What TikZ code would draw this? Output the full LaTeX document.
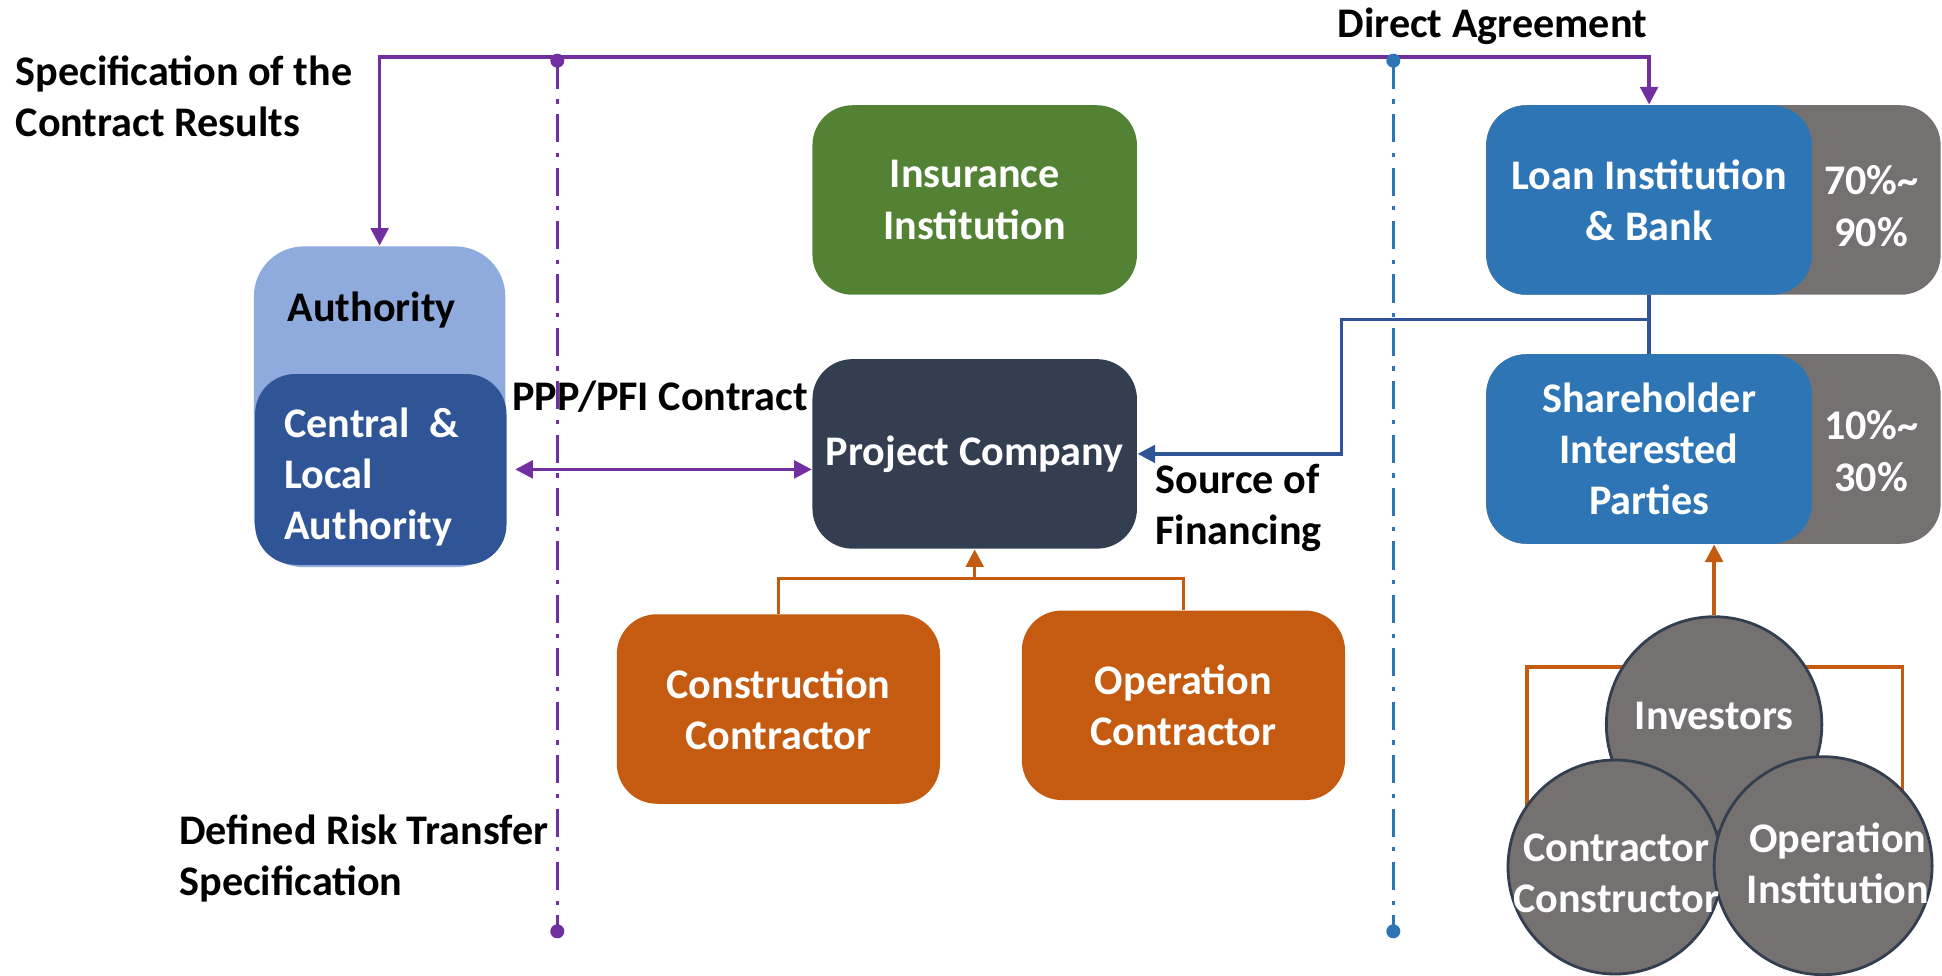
\documentclass[tikz,border=0pt]{standalone}
\usepackage{fontspec}
\setmainfont{Carlito}
\usetikzlibrary{arrows.meta}
\definecolor{pourpre}{HTML}{7030A0}
\definecolor{bleuclair}{HTML}{8FAADC}
\definecolor{bleufonce}{HTML}{2F5597}
\definecolor{bleu}{HTML}{2E75B6}
\definecolor{vert}{HTML}{548235}
\definecolor{ardoise}{HTML}{333F50}
\definecolor{gris}{HTML}{767171}
\definecolor{orange}{HTML}{C55A11}
\begin{document}
\begin{tikzpicture}[font=\bfseries\fontsize{12}{14.6}\selectfont]
	\tikzset{boite/.style={rounded corners=0.4cm, minimum width=3.245cm, minimum height=1.895cm, text=white, align=center, inner sep=0pt},
		fond/.style={boite, fill=gris, minimum width=4.545cm},
		cercle/.style={circle, draw=ardoise, line width=0.8pt, fill=gris, inner sep=0pt},
		fleche/.style={>={Triangle[length=5pt, width=5pt]}, line width=1pt},
		pointille/.style={line width=0.9pt, dash pattern=on 8pt off 3pt on 1.2pt off 3pt}};

	\useasboundingbox (0,0) rectangle (19.42,-9.76);

	\node[boite, fill=bleuclair, minimum width=2.514cm, minimum height=3.208cm, rounded corners=0.5cm] (auth) at (3.796,-4.068) {};
	\node[boite, fill=bleufonce, minimum width=2.514cm, minimum height=1.907cm] (cent) at (3.808,-4.694) {};
	\node[text=white, anchor=west, align=left] (centt) at (2.72,-4.77) {Central\ \ \&\\Local\\Authority};
	\node (authlbl) at (3.716,-3.100) {Authority};

	\node[boite, fill=vert] (ins) at (9.747,-2.000) {Insurance\\Institution};
	\node[boite, fill=ardoise] (proj) at (9.747,-4.539) {Project Company};
	\node[boite, fill=orange, minimum width=3.232cm] (cons) at (7.784,-7.090) {Construction\\Contractor};
	\node[boite, fill=orange, minimum width=3.232cm] (oper) at (11.834,-7.053) {Operation\\Contractor};

	\node[fond] (loang) at (17.134,-2.000) {};
	\node[boite, fill=bleu, minimum width=3.257cm] (loan) at (16.491,-2.000) {Loan Institution\\\& Bank};
	\node[text=white, align=center] (loanpct) at (18.713,-2.060) {70\%\textasciitilde\\90\%};
	\node[fond] (shareg) at (17.134,-4.490) {};
	\node[boite, fill=bleu, minimum width=3.257cm] (share) at (16.491,-4.490) {Shareholder\\Interested\\Parties};
	\node[text=white, align=center] (sharepct) at (18.713,-4.510) {10\%\textasciitilde\\30\%};

	\node (direct) at (14.924,-0.260) {Direct Agreement};
	\node[anchor=west, align=left] (spec) at (0.033,-0.966) {Specification of the\\Contract Results};
	\node (ppp) at (6.601,-3.963) {PPP/PFI Contract};
	\node[anchor=west, align=left] (source) at (11.430,-5.080) {Source of\\Financing};
	\node[anchor=west, align=left] (risk) at (1.670,-8.583) {Defined Risk Transfer\\Specification};

	% lignes de separation
	\coordinate (pv1) at (5.573,-0.607);
	\coordinate (pv2) at (5.573,-9.313);
	\coordinate (bv1) at (13.933,-0.607);
	\coordinate (bv2) at (13.933,-9.313);
	\draw[pointille, pourpre] (pv1) -- (pv2);
	\draw[pointille, bleu] (bv1) -- (bv2);

	\coordinate (topleft) at (3.796,-0.570);
	\draw[fleche, pourpre, <->] (auth.north) -- (topleft) -| (loan.north);
	\fill[pourpre] (pv1) circle (0.07);
	\fill[pourpre] (pv2) circle (0.07);
	\fill[bleu] (bv1) circle (0.07);
	\fill[bleu] (bv2) circle (0.07);

	\draw[fleche, pourpre, <->] (cent.east) ++(0.08,0) -- (cent.east -| proj.west);

	% financement
	\coordinate (fin) at (16.491,-3.195);
	\coordinate (finturn) at (13.413,-3.195);
	\draw[line width=1pt, bleufonce] (loan.south) -- (share.north);
	\draw[fleche, bleufonce, ->] (fin) -- (finturn) |- (proj.east);

	% contractants
	\coordinate (join) at (9.747,-5.784);
	\draw[line width=1pt, orange] (cons.north) |- (join);
	\draw[line width=1pt, orange] (oper.north) |- (join);
	\draw[fleche, orange, ->] (join) -- (proj.south);

	% investisseurs
	\coordinate (invc) at (17.141,-7.245);
	\coordinate (ctrc) at (16.150,-8.670);
	\coordinate (opic) at (18.231,-8.657);
	\coordinate (brl) at (15.271,-6.669);
	\coordinate (brr) at (19.023,-6.669);
	\draw[line width=1pt, orange] (ctrc -| brl) -- (brl) -- (brr) -- (opic -| brr);
	\node[cercle, minimum size=2.155cm] (inv) at (invc) {};
	\node[cercle, minimum size=2.140cm] (ctr) at (ctrc) {};
	\node[cercle, minimum size=2.180cm] (opi) at (opic) {};
	\draw[fleche, orange, ->] (inv.north) -- (inv.north |- share.south);
	\node[text=white] (invt) at (17.141,-7.159) {Investors};
	\node[text=white, align=center] (ctrt) at (16.162,-8.731) {Contractor\\Constructor};
	\node[text=white, align=center] (opit) at (18.379,-8.632) {Operation\\Institution};
\end{tikzpicture}
\end{document}
